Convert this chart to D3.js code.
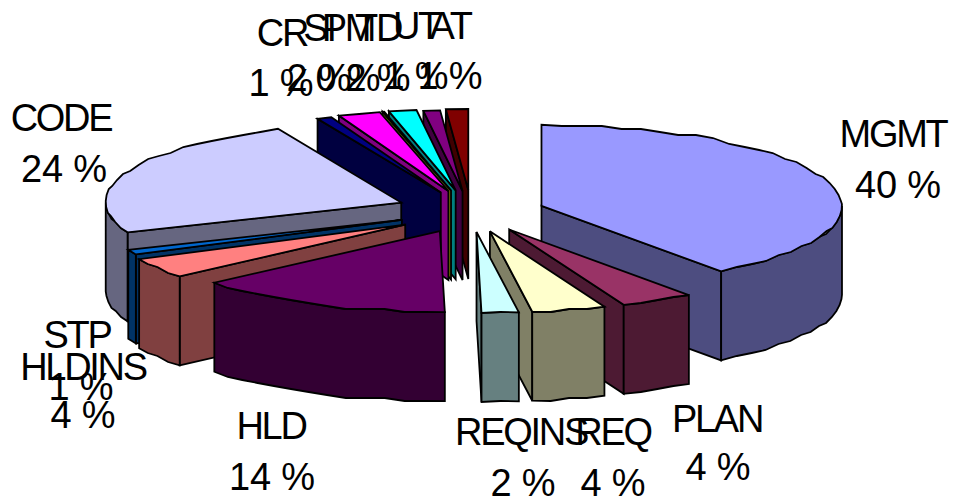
<!DOCTYPE html>
<html>
<head>
<meta charset="utf-8">
<script src="https://cdn.jsdelivr.net/npm/d3@7"></script>
<style>
  html, body { margin: 0; padding: 0; background: #fff; }
  svg { display: block; }
  text { font-family: "Liberation Sans", Arial, sans-serif; font-size: 38px; fill: #000; text-anchor: middle; }
  .name { letter-spacing: -2.3px; }
  .value { letter-spacing: -0.2px; }
</style>
</head>
<body>
<svg id="chart" width="953" height="500"></svg>
<script>
// Effort share per project phase
const phases = ["MGMT", "PLAN", "REQ", "REQINS", "HLD", "HLDINS", "STP", "CODE", "CR", "SI", "PM", "TD", "UT", "AT"];
const shares = [40, 4, 4, 2, 14, 4, 1, 24.2, 0.8, 2.3, 0.1, 1.5, 0.9, 1.2];
const colors = ["#9999FF", "#993366", "#FFFFCC", "#CCFFFF", "#660066", "#FF8080", "#0066CC",
                "#CCCCFF", "#000080", "#FF00FF", "#FFFF00", "#00FFFF", "#800080", "#800000"];

// Label anchors: [name x, name baseline, value x, value baseline]
const labelAnchors = [
  [893, 147, 898, 198], [717, 432, 718, 480], [613, 445, 613, 496], [521, 445, 523, 496],
  [271, 439, 272, 490], [83, 380, 83, 428], [77, 348, 81, 400], [61, 131, 64, 182],
  [282, 46, 281, 96], [319, 41, 319, 91], [348, 41, 348, 91], [378, 41, 378, 91],
  [416, 39, 416, 89], [450, 39, 450, 89]
];

// Small per-slice corrections of the explosion offset (dx, dy)
const apexNudges = [
  [0, 0], [1.5, 0], [-1, 0], [-1, 0], [-2.5, 1], [-7, 2], [-5, 0], [-5, -2],
  [-4, -1], [-3, -2], [-5.6, -2], [-4.5, -2], [-3, -1], [-2, -2]
];

// Geometry of the tilted, exploded pie
const centre = { x: 473, y: 212 };
const explode = { x: 72, y: 20 };
const radius = { x: 298, y: 81 };
const depth = 89;
const snapY = 3;
const lean = 2.5;
const stroke = 1.8;

const svg = d3.select("#chart");
const pie = d3.pie().sort(null).value(d => d.share).startAngle(0).endAngle(2 * Math.PI);
const rows = phases.map((p, i) => ({
  phase: p, share: shares[i], color: colors[i], anchor: labelAnchors[i], nudge: apexNudges[i]
}));
const slices = pie(rows).map(s => {
  const mid = (s.startAngle + s.endAngle) / 2;
  return {
    ...s, mid,
    apex: [
      centre.x + explode.x * Math.sin(mid) + s.data.nudge[0],
      centre.y - explode.y * Math.cos(mid) + s.data.nudge[1]
    ]
  };
});

const line = d3.line();
const below = p => [p[0], p[1] + depth];
const rimPoint = (s, t) => [
  s.apex[0] + radius.x * Math.sin(t) + lean * (1 - Math.cos(t)),
  s.apex[1] - radius.y * Math.cos(t)
];

// Coarse polyline along the rim; y is snapped to a grid for the faceted outline
function rim(s, a0, a1) {
  const chord = Math.abs(a1 - a0) * radius.x;
  const n = Math.max(1, Math.round(chord / 20));
  return d3.range(n + 1).map(i => {
    const p = rimPoint(s, a0 + (a1 - a0) * i / n);
    if (i === 0 || i === n) return p;
    return [p[0], Math.round(p[1] / snapY) * snapY];
  });
}

const shade = c => { const r = d3.rgb(c); return d3.rgb(r.r / 2, r.g / 2, r.b / 2).formatHex(); };

// Back slices are painted first so the front ones overlap them
const order = slices.slice().sort((a, b) =>
  Math.abs(b.mid - Math.PI) - Math.abs(a.mid - Math.PI));

const groups = svg.append("g").selectAll("g").data(order).join("g")
  .attr("stroke", "#000").attr("stroke-width", stroke).attr("stroke-linejoin", "miter");

groups.each(function (s) {
  const g = d3.select(this);
  const dark = shade(s.data.color);
  const wall = t => {
    const r = rimPoint(s, t);
    g.append("path").attr("fill", dark)
      .attr("d", line([s.apex, r, below(r), below(s.apex)]) + "Z");
  };
  if (Math.sin(s.startAngle) < 0) wall(s.startAngle);
  if (Math.sin(s.endAngle) > 0) wall(s.endAngle);
  const from = Math.max(s.startAngle, Math.PI / 2);
  const to = Math.min(s.endAngle, 1.5 * Math.PI);
  if (to > from) {
    const edge = rim(s, from, to);
    g.append("path").attr("fill", dark)
      .attr("d", line(edge.concat(edge.slice().reverse().map(below))) + "Z");
  }
  g.append("path").attr("fill", s.data.color)
    .attr("d", line([s.apex].concat(rim(s, s.startAngle, s.endAngle))) + "Z");
});

// Two-line labels: phase name and rounded share
const labels = svg.append("g").selectAll("g").data(rows).join("g");
labels.append("text").attr("class", "name")
  .attr("x", d => d.anchor[0]).attr("y", d => d.anchor[1]).text(d => d.phase);
labels.append("text").attr("class", "value")
  .attr("x", d => d.anchor[2]).attr("y", d => d.anchor[3]).text(d => Math.round(d.share) + " %");
</script>
</body>
</html>
